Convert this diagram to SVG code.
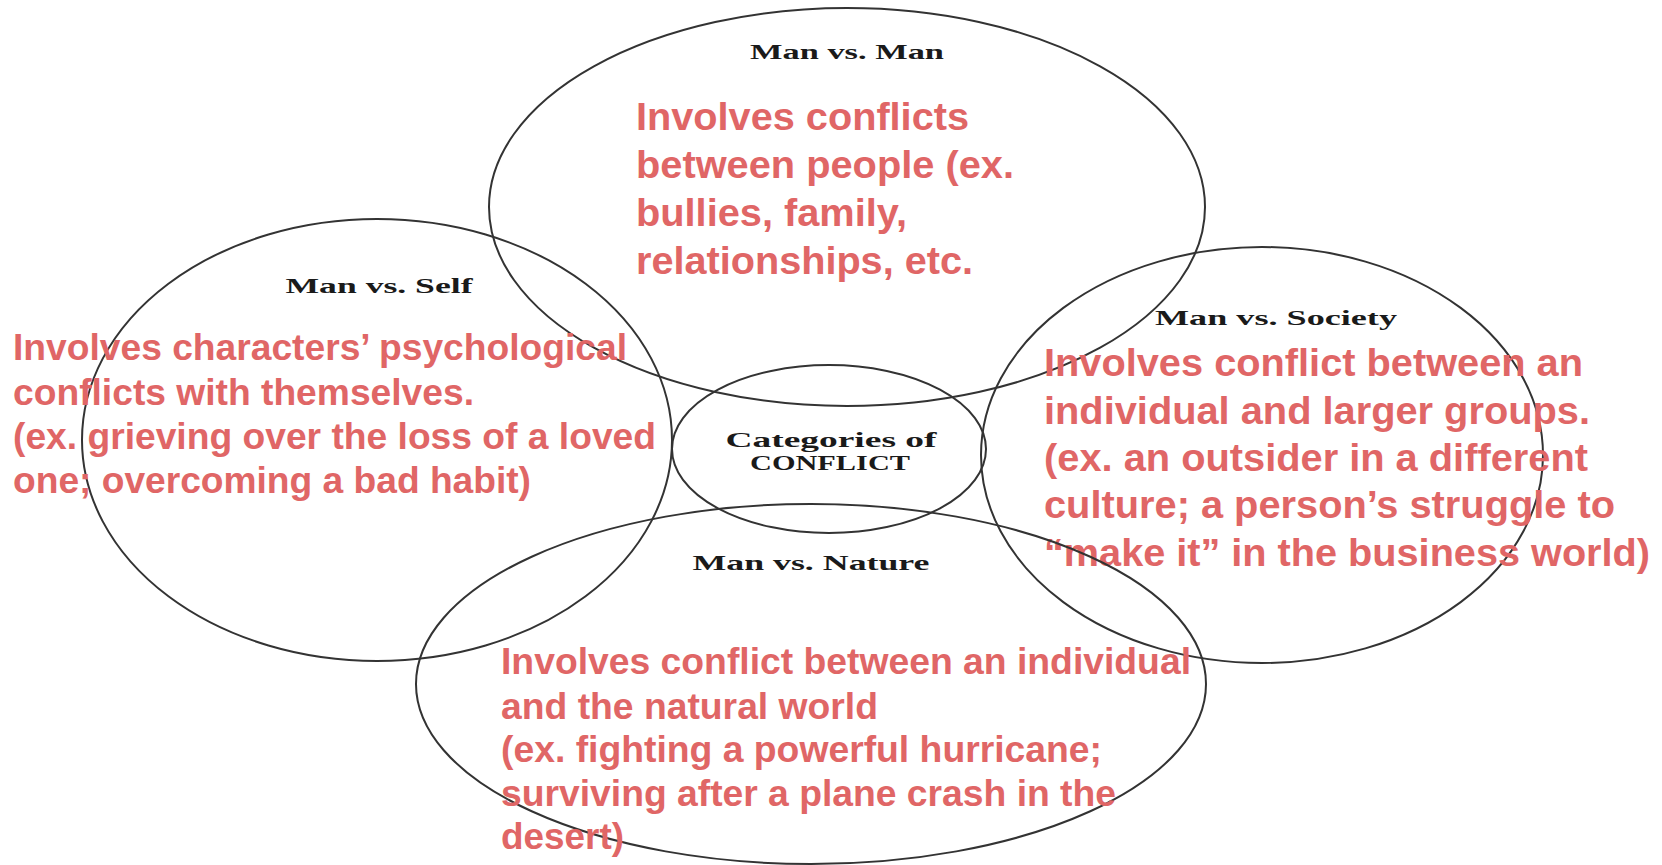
<svg xmlns="http://www.w3.org/2000/svg" width="1662" height="865" viewBox="0 0 1662 865">
<style>
.ring{fill:none;stroke:#333;stroke-width:2}
.lbl{font-family:"Liberation Serif","DejaVu Serif",serif;font-weight:bold;font-size:21px;fill:#1a1a1a;text-anchor:middle}
.red{font-family:"Liberation Sans Narrow","Liberation Sans",Arial,sans-serif;font-weight:bold;fill:#e06666}
</style>
<rect width="1662" height="865" fill="#fff"/>
<g id="connectors"></g>
<g id="man-vs-man">
<ellipse class="ring" cx="847" cy="207" rx="358" ry="199"/>
<text class="lbl" x="847" y="59" textLength="194" lengthAdjust="spacingAndGlyphs">Man vs. Man</text>
<g class="red" font-size="39">
<text x="636" y="130" textLength="333" lengthAdjust="spacingAndGlyphs">Involves conflicts</text>
<text x="636" y="178" textLength="378" lengthAdjust="spacingAndGlyphs">between people (ex.</text>
<text x="636" y="226" textLength="271" lengthAdjust="spacingAndGlyphs">bullies, family,</text>
<text x="636" y="274" textLength="337" lengthAdjust="spacingAndGlyphs">relationships, etc.</text>
</g>
</g>
<g id="man-vs-self">
<ellipse class="ring" cx="377" cy="440" rx="295" ry="221"/>
<text class="lbl" x="379" y="293" textLength="187" lengthAdjust="spacingAndGlyphs">Man vs. Self</text>
<g class="red" font-size="36">
<text x="13" y="360" textLength="614" lengthAdjust="spacingAndGlyphs">Involves characters’ psychological</text>
<text x="13" y="405" textLength="461" lengthAdjust="spacingAndGlyphs">conflicts with themselves.</text>
<text x="13" y="449" textLength="643" lengthAdjust="spacingAndGlyphs">(ex. grieving over the loss of a loved</text>
<text x="13" y="493" textLength="518" lengthAdjust="spacingAndGlyphs">one; overcoming a bad habit)</text>
</g>
</g>
<g id="man-vs-society">
<ellipse class="ring" cx="1262" cy="455" rx="281" ry="208"/>
<text class="lbl" x="1276" y="325" textLength="242" lengthAdjust="spacingAndGlyphs">Man vs. Society</text>
<g class="red" font-size="38">
<text x="1044" y="376" textLength="539" lengthAdjust="spacingAndGlyphs">Involves conflict between an</text>
<text x="1044" y="424" textLength="546" lengthAdjust="spacingAndGlyphs">individual and larger groups.</text>
<text x="1044" y="471" textLength="544" lengthAdjust="spacingAndGlyphs">(ex. an outsider in a different</text>
<text x="1044" y="518" textLength="571" lengthAdjust="spacingAndGlyphs">culture; a person’s struggle to</text>
<text x="1044" y="566" textLength="606" lengthAdjust="spacingAndGlyphs">“make it” in the business world)</text>
</g>
</g>
<g id="man-vs-nature">
<ellipse class="ring" cx="811" cy="684" rx="395" ry="180"/>
<text class="lbl" x="811" y="570" textLength="237" lengthAdjust="spacingAndGlyphs">Man vs. Nature</text>
<g class="red" font-size="36">
<text x="501" y="674" textLength="690" lengthAdjust="spacingAndGlyphs">Involves conflict between an individual</text>
<text x="501" y="719" textLength="377" lengthAdjust="spacingAndGlyphs">and the natural world</text>
<text x="501" y="762" textLength="601" lengthAdjust="spacingAndGlyphs">(ex. fighting a powerful hurricane;</text>
<text x="501" y="806" textLength="615" lengthAdjust="spacingAndGlyphs">surviving after a plane crash in the</text>
<text x="501" y="849" textLength="123" lengthAdjust="spacingAndGlyphs">desert)</text>
</g>
</g>
<g id="categories">
<ellipse class="ring" cx="829" cy="449" rx="157" ry="84"/>
<text class="lbl" x="831" y="447" textLength="211" lengthAdjust="spacingAndGlyphs">Categories of</text>
<text class="lbl" x="830" y="470" textLength="160" lengthAdjust="spacingAndGlyphs">CONFLICT</text>
</g>
</svg>
